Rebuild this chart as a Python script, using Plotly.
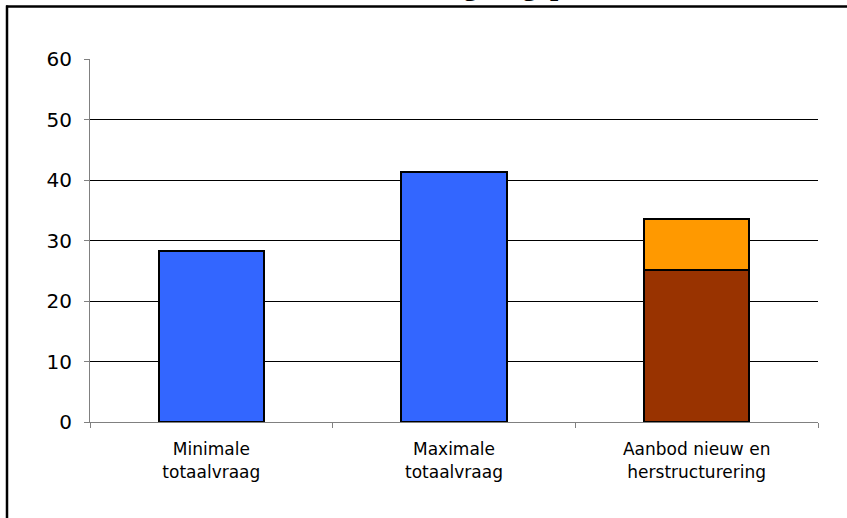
import plotly.graph_objects as go

# ---- data ----
categories = ["Minimale<br>totaalvraag", "Maximale<br>totaalvraag", "Aanbod nieuw en<br>herstructurering"]
totaalvraag = [28.2, 41.4, None]
aanbod_herstructurering = [None, None, 25.2]
aanbod_nieuw = [None, None, 8.3]
y_ticks = [0, 10, 20, 30, 40, 50, 60]
title_text = "Grafiek 4.3: Confrontatie totaalvraag en gepland aanbod nieuw en herstructurering"

W, H = 847, 518
L, R, T, B = 90, 818, 59, 422

def px(x):
    return (x - L) / (R - L)

def py(y):
    return (B - y) / (B - T)

fig = go.Figure()
line = dict(color="#000000", width=2)
fig.add_trace(go.Bar(x=categories, y=totaalvraag, marker=dict(color="#3366FF", line=line), name="Totaalvraag"))
fig.add_trace(go.Bar(x=categories, y=aanbod_herstructurering, marker=dict(color="#993300", line=line), name="Herstructurering"))
fig.add_trace(go.Bar(x=categories, y=aanbod_nieuw, marker=dict(color="#FF9900", line=line), name="Nieuw"))

fig.update_layout(
    width=W, height=H,
    margin=dict(l=L, r=W - R, t=T, b=H - B, pad=0),
    paper_bgcolor="white", plot_bgcolor="white",
    barmode="stack", bargap=0.565,
    showlegend=False,
    font=dict(family="DejaVu Sans, Verdana, sans-serif", color="#000000"),
)
fig.update_yaxes(
    range=[0, 60], tickvals=y_ticks, ticks="outside", ticklen=5, tickcolor="#808080",
    showline=True, linecolor="#808080", linewidth=1,
    showgrid=True, gridcolor="#000000", gridwidth=1, zeroline=False,
    tickfont=dict(size=20, color="#000000"), ticklabelstandoff=8,
)
fig.update_xaxes(
    tickson="boundaries", ticks="outside", ticklen=5, tickcolor="#808080",
    showline=True, linecolor="#808080", linewidth=1, showgrid=False,
    tickfont=dict(size=17, color="#000000"), ticklabelstandoff=12,
)

# outer frame of the chart object (top and left edges; it runs past the page edge)
fig.add_shape(type="line", xref="paper", yref="paper",
              x0=px(6), x1=px(847), y0=py(6.5), y1=py(6.5),
              line=dict(color="#000000", width=2.5), layer="above")
fig.add_shape(type="line", xref="paper", yref="paper",
              x0=px(7), x1=px(7), y0=py(5.5), y1=py(518),
              line=dict(color="#000000", width=2.5), layer="above")

# clipped title above the frame
fig.add_annotation(text="<b>" + title_text + "</b>", xref="paper", yref="paper",
                   x=px(3), y=py(3.3), xanchor="left", yanchor="bottom", showarrow=False,
                   font=dict(family="Liberation Serif, Times New Roman, serif", size=29.5, color="#000000"))

fig.write_html("out.html", config={"displayModeBar": False})
